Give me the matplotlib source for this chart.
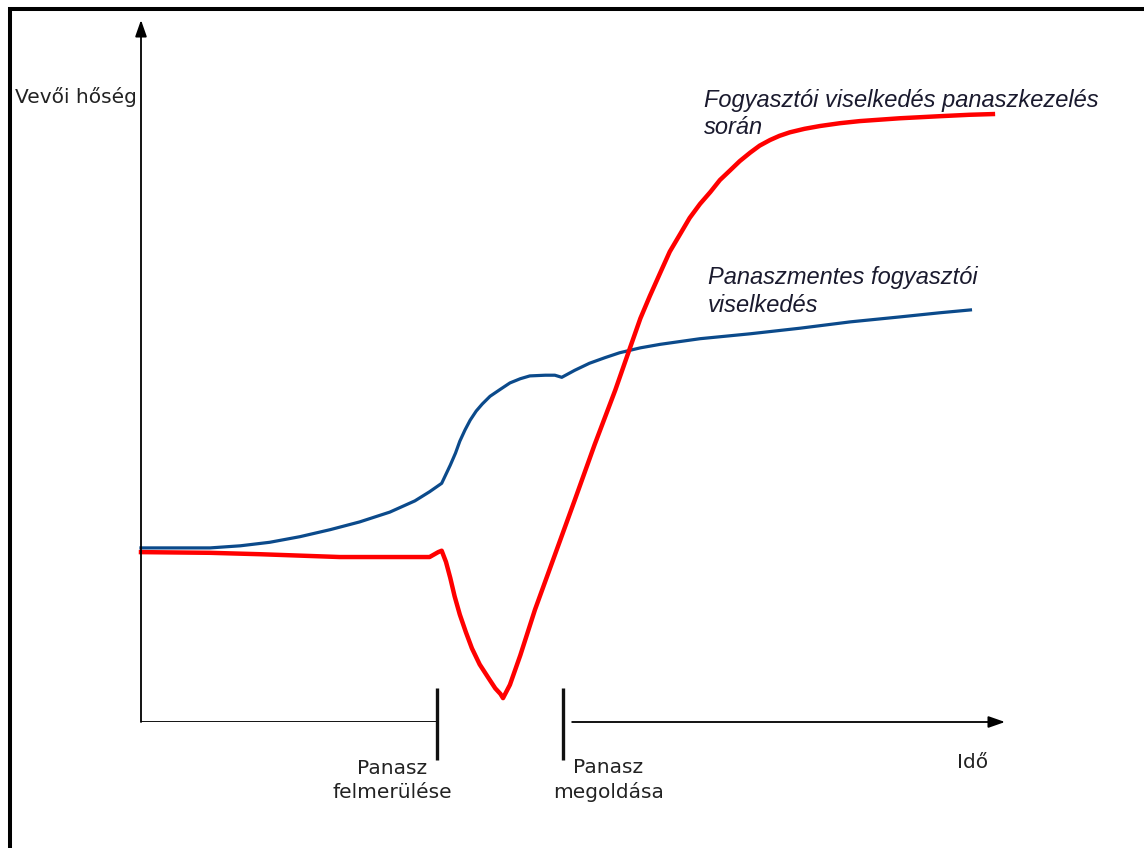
import matplotlib
matplotlib.use("Agg")
import matplotlib.pyplot as plt
from matplotlib.lines import Line2D

# time axis 0..100, loyalty axis 0..100
t_blue = [0, 8.0, 11.5, 14.9, 18.4, 21.9, 25.3, 28.8, 31.7, 33.4, 34.8, 35.3, 35.8,
          36.4, 36.9, 37.5, 38.1, 38.8, 39.5, 40.4, 41.6, 42.7, 43.9, 45.0, 46.8,
          47.9, 48.7, 50.2, 51.9, 53.7, 55.4, 57.8, 60.1, 64.7, 70.5, 76.3, 82.1,
          87.8, 92.5, 96.0]
y_blue = [24.8, 24.8, 25.1, 25.6, 26.4, 27.4, 28.5, 29.9, 31.5, 32.8, 34.0, 35.3, 36.6,
          38.3, 40.0, 41.6, 43.0, 44.3, 45.3, 46.4, 47.4, 48.3, 48.9, 49.3, 49.4,
          49.4, 49.1, 50.1, 51.1, 51.9, 52.6, 53.3, 53.8, 54.6, 55.3, 56.1, 57.0,
          57.7, 58.3, 58.7]

t_red = [0, 8.0, 13.8, 23.0, 33.4, 34.4, 34.8, 35.3, 35.8, 36.3, 36.9, 37.6, 38.3,
         39.2, 40.2, 41.0, 41.6, 41.9, 42.7, 43.9, 45.6, 47.9, 50.2, 52.5, 54.9,
         56.6, 57.8, 58.9, 60.1, 61.2, 62.4, 63.5, 64.7, 65.9, 67.0, 68.2, 69.3,
         70.5, 71.6, 72.8, 73.9, 75.1, 76.8, 78.6, 80.9, 83.2, 87.8, 92.5, 95.9, 98.6]
y_red = [24.2, 24.1, 23.9, 23.5, 23.5, 24.2, 24.4, 22.8, 20.5, 17.9, 15.3, 12.8, 10.5,
         8.2, 6.3, 4.8, 4.0, 3.4, 5.3, 9.5, 16.0, 23.8, 31.6, 39.5, 47.3,
         53.3, 57.5, 60.7, 64.0, 67.0, 69.5, 71.8, 73.8, 75.5, 77.2, 78.6, 79.9,
         81.1, 82.1, 82.9, 83.5, 84.0, 84.5, 84.9, 85.3, 85.6, 86.0, 86.3, 86.5, 86.6]

events = [34.3, 48.8]
event_labels = ["Panasz\nfelmerülése", "Panasz\nmegoldása"]

W, H = 1144, 848
fig = plt.figure(figsize=(W / 100, H / 100), dpi=100)
ox, oy, xend, ytop = 141, 722, 1005, 20
ax = fig.add_axes([ox / W, (H - oy) / H, (xend - ox) / W, (oy - ytop) / H])
ax.set_xlim(0, 100)
ax.set_ylim(0, 100)
ax.axis("off")

# frame of the original picture (left and top only)
fig.add_artist(Line2D([9.5 / W, 9.5 / W], [0, 1 - 7 / H], color="black", lw=2.9,
                      solid_capstyle="butt"))
fig.add_artist(Line2D([7.5 / W, 1], [1 - 9 / H, 1 - 9 / H], color="black", lw=2.9,
                      solid_capstyle="butt"))

# axes with arrows
ax.annotate("", xy=(0, 100), xytext=(0, 0), xycoords="data",
            arrowprops=dict(arrowstyle="-|>,head_length=1.0,head_width=0.35",
                            color="black", lw=1.3, shrinkA=0, shrinkB=0))
ax.plot([0, events[0]], [0, 0], color="black", lw=1.3, solid_capstyle="butt")
ax.annotate("", xy=(100, 0), xytext=(events[1] + 1.1, 0), xycoords="data",
            arrowprops=dict(arrowstyle="-|>,head_length=1.0,head_width=0.35",
                            color="black", lw=1.3, shrinkA=0, shrinkB=0))

for e in events:
    ax.plot([e, e], [4.8, -5.4], color="#111111", lw=2.4, clip_on=False,
            solid_capstyle="butt")

ax.text(events[0] - 5.2, -8.3, event_labels[0], ha="center", va="center",
        fontsize=14.5, color="#222222", linespacing=1.3)
ax.text(events[1] + 5.3, -8.3, event_labels[1], ha="center", va="center",
        fontsize=14.5, color="#222222", linespacing=1.3)

ax.plot(t_blue, y_blue, color="#0b4a8b", lw=2.3, clip_on=False)
ax.plot(t_red, y_red, color="#ff0000", lw=3.2, clip_on=False)

ax.text(-14.6, 89.0, "Vevői hőség", ha="left", va="center", fontsize=14.5,
        color="#222222")
ax.text(96.2, -5.8, "Idő", ha="center", va="center", fontsize=14.5, color="#222222")

ax.text(65.2, 86.6, "Fogyasztói viselkedés panaszkezelés\nsorán", ha="left",
        va="center", fontsize=17, style="italic", family="Liberation Sans",
        color="#1a1a2e", linespacing=1.25)
ax.text(65.6, 61.3, "Panaszmentes fogyasztói\nviselkedés", ha="left",
        va="center", fontsize=17, style="italic", family="Liberation Sans",
        color="#1a1a2e", linespacing=1.25)

fig.savefig("out.png", dpi=100)
